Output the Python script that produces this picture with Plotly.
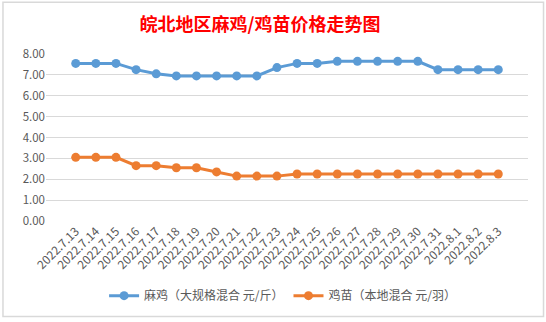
import plotly.graph_objects as go

dates = ["2022.7.13", "2022.7.14", "2022.7.15", "2022.7.16", "2022.7.17", "2022.7.18",
         "2022.7.19", "2022.7.20", "2022.7.21", "2022.7.22", "2022.7.23", "2022.7.24",
         "2022.7.25", "2022.7.26", "2022.7.27", "2022.7.28", "2022.7.29", "2022.7.30",
         "2022.7.31", "2022.8.1", "2022.8.2", "2022.8.3"]
maji = [7.55, 7.55, 7.55, 7.25, 7.05, 6.95, 6.95, 6.95, 6.95, 6.95, 7.35, 7.55,
        7.55, 7.65, 7.65, 7.65, 7.65, 7.65, 7.25, 7.25, 7.25, 7.25]
jimiao = [3.05, 3.05, 3.05, 2.65, 2.65, 2.55, 2.55, 2.35, 2.15, 2.15, 2.15, 2.25,
          2.25, 2.25, 2.25, 2.25, 2.25, 2.25, 2.25, 2.25, 2.25, 2.25]
yticks = [0, 1, 2, 3, 4, 5, 6, 7, 8]

FONT = "Noto Sans CJK SC"
fig = go.Figure()
fig.add_trace(go.Scatter(x=dates, y=maji, mode="lines+markers",
                         name="麻鸡（大规格混合 元/斤）",
                         line=dict(color="#5B9BD5", width=3),
                         marker=dict(color="#5B9BD5", size=9)))
fig.add_trace(go.Scatter(x=dates, y=jimiao, mode="lines+markers",
                         name="鸡苗（本地混合 元/羽）",
                         line=dict(color="#ED7D31", width=3),
                         marker=dict(color="#ED7D31", size=9)))

fig.update_layout(
    width=546, height=322,
    margin=dict(l=46, r=18, t=54, b=99),
    paper_bgcolor="white", plot_bgcolor="white",
    font=dict(family=FONT, size=11, color="#595959"),
    title=dict(text="<b>皖北地区麻鸡/鸡苗价格走势图</b>", x=260/546, xref="container",
               xanchor="center", y=1 - 25/322, yanchor="middle",
               font=dict(family=FONT, size=18, color="#FF0000")),
    xaxis=dict(type="category", tickangle=-45, showgrid=False, showline=False,
               ticks="", tickfont=dict(size=12, color="#595959")),
    yaxis=dict(range=[0, 8], tickvals=yticks, tickformat=".2f", showgrid=True,
               gridcolor="#D9D9D9", gridwidth=1, zeroline=False, showline=False,
               ticks="", tickfont=dict(size=11.5, color="#595959")),
    legend=dict(orientation="h", x=268/546, xanchor="center", y=-(298 - 222.7) / 168.4,
                yanchor="middle", font=dict(size=12, color="#595959"),
                itemwidth=30),
    showlegend=True,
)
fig.add_shape(type="rect", xref="paper", yref="paper",
              x0=-43/481.8, x1=(543-45.7)/481.8,
              y0=-(319-222.7)/168.4, y1=(222.7-2)/168.4,
              line=dict(color="#D9D9D9", width=1.5))

fig.write_html("out.html")
